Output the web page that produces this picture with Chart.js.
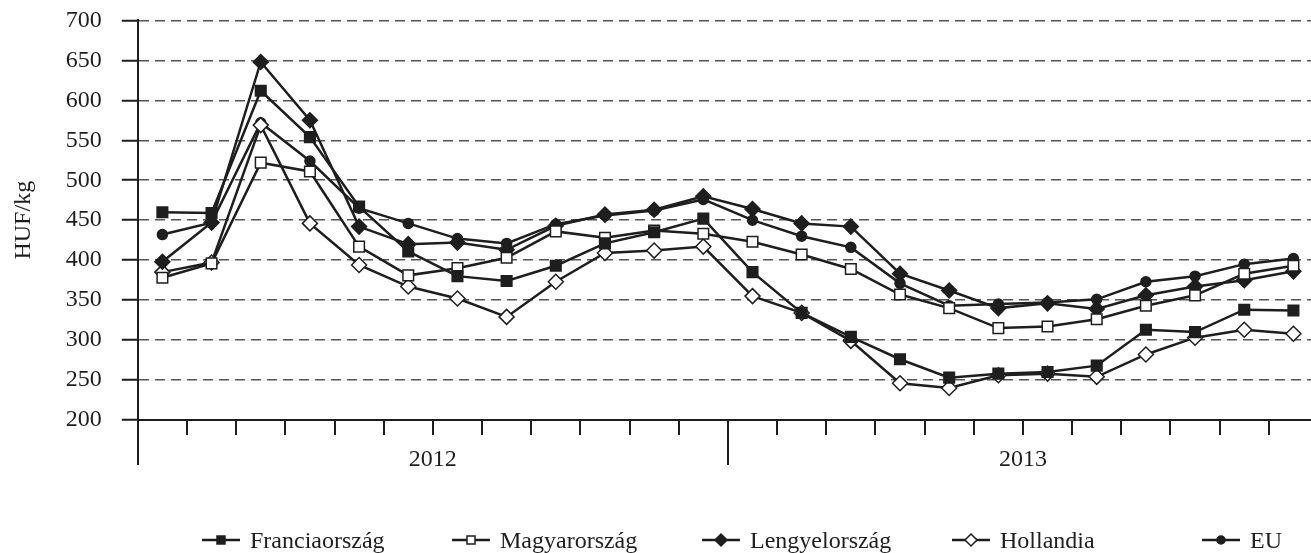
<!DOCTYPE html>
<html>
<head>
<meta charset="utf-8">
<script src="https://cdn.jsdelivr.net/npm/chart.js@4"></script>
<style>
  html, body { margin: 0; padding: 0; background: #fff; overflow: hidden; width: 1311px; height: 553px; }
  #wrap { position: relative; width: 1311px; height: 553px; overflow: hidden; }
  /* canvas pulled up so the 700 gridline sits where the reference has it */
  #chart { position: absolute; left: 0; top: -14px; display: block; }
  #legend { position: absolute; left: 202px; top: 528px; display: flex; }
  #legend .item { width: 250px; height: 24px; display: flex; align-items: center;
                  font: 24px 'Liberation Serif', 'Times New Roman', serif; line-height: 24px; color: #1e1e1e; white-space: nowrap; }
  #legend canvas { margin-right: 10px; }
</style>
</head>
<body>
<div id="wrap">
  <canvas id="chart" width="1330" height="567"></canvas>
  <div id="legend"></div>
</div>
<script>
// monthly prices, HUF/kg
const months = ['2012-01','2012-02','2012-03','2012-04','2012-05','2012-06','2012-07','2012-08','2012-09','2012-10','2012-11','2012-12',
                '2013-01','2013-02','2013-03','2013-04','2013-05','2013-06','2013-07','2013-08','2013-09','2013-10','2013-11','2013-12'];
const years = ['2012', '2013'];

const francia  = [460, 459, 612, 554, 467, 411, 380, 374, 393, 421, 435, 452, 385, 334, 304, 276, 253, 258, 260, 268, 313, 310, 338, 337];
const magyar   = [378, 396, 522, 511, 417, 381, 390, 403, 436, 428, 437, 433, 423, 407, 389, 357, 340, 315, 317, 326, 343, 356, 383, 393];
const lengyel  = [398, 447, 648, 575, 442, 420, 422, 413, 443, 457, 463, 480, 464, 446, 442, 383, 362, 340, 346, 339, 356, 367, 375, 386];
const holland  = [385, 397, 569, 446, 394, 367, 352, 329, 373, 409, 412, 417, 355, 334, 299, 246, 240, 256, 258, 254, 282, 303, 313, 308];
const eu       = [432, 447, 572, 524, 465, 446, 427, 421, 445, 456, 462, 476, 450, 430, 416, 371, 343, 345, 347, 351, 373, 380, 395, 402];

const INK = '#1e1e1e';
const FONT = { family: "'Liberation Serif', 'Times New Roman', serif", size: 24 };

// small line+marker icons for the legend
function legendIcon(kind) {
  const c = document.createElement('canvas');
  c.width = 38; c.height = 16;
  const g = c.getContext('2d');
  const cx = 19, cy = 8;
  g.strokeStyle = INK; g.lineWidth = 2.5;
  g.beginPath(); g.moveTo(0, cy); g.lineTo(38, cy); g.stroke();
  g.lineWidth = 1.5;
  g.fillStyle = (kind === 'sqOpen' || kind === 'diaOpen') ? '#fff' : INK;
  g.beginPath();
  if (kind === 'sq' || kind === 'sqOpen') {
    g.rect(cx - 4, cy - 4, 8, 8);
  } else if (kind === 'dia' || kind === 'diaOpen') {
    g.moveTo(cx, cy - 6); g.lineTo(cx + 6, cy); g.lineTo(cx, cy + 6); g.lineTo(cx - 6, cy); g.closePath();
  } else {
    g.arc(cx, cy, 4, 0, Math.PI * 2);
  }
  g.fill(); g.stroke();
  return c;
}

function series(label, data, style, radius, open, icon) {
  return {
    label: label,
    data: data,
    borderColor: INK,
    borderWidth: 2.5,
    tension: 0,
    pointStyle: style,
    pointRadius: radius,
    pointHoverRadius: radius,
    pointBorderWidth: 1.5,
    pointBorderColor: INK,
    pointBackgroundColor: open ? '#fff' : INK,
    legendIcon: icon,
    xAxisID: 'x'
  };
}

const chart = new Chart(document.getElementById('chart'), {
  type: 'line',
  data: {
    labels: months,
    datasets: [
      series('Franciaország', francia, 'rect', 7.5, false, 'sq'),
      series('Magyarország', magyar, 'rect', 7.5, true, 'sqOpen'),
      series('Lengyelország', lengyel, 'rectRot', 7.5, false, 'dia'),
      series('Hollandia', holland, 'rectRot', 7.5, true, 'diaOpen'),
      series('EU', eu, 'circle', 5, false, 'dot')
    ]
  },
  options: {
    responsive: false,
    animation: false,
    events: [],
    layout: { padding: { left: 5, right: 12, top: 0, bottom: 73 } },
    plugins: {
      tooltip: { enabled: false },
      legend: { display: false }
    },
    scales: {
      x: {
        type: 'category',
        offset: true,
        ticks: { display: false },
        grid: { offset: true, drawOnChartArea: false, tickLength: 15, color: INK, lineWidth: 2, tickBorderDash: [] },
        border: { display: true, color: INK, width: 2 },
        afterFit(scale) { scale.height = 15; }
      },
      x2: {
        type: 'category',
        labels: years,
        position: 'bottom',
        offset: true,
        ticks: { color: INK, font: FONT, padding: -20, maxRotation: 0 },
        grid: { offset: true, drawOnChartArea: false, tickLength: 30, color: INK, lineWidth: 2, tickBorderDash: [] },
        border: { display: false },
        afterFit(scale) { scale.height = 45; }
      },
      y: {
        min: 200,
        max: 700,
        ticks: { stepSize: 50, color: INK, font: FONT, padding: 20 },
        grid: {
          color: '#555',
          lineWidth: 1.5,
          tickLength: 16,
          tickColor: INK,
          tickWidth: 2,
          tickBorderDash: []
        },
        // dash here styles the horizontal grid lines, the axis line stays solid
        border: { display: true, color: INK, width: 2, dash: [10, 6] },
        title: {
          display: true,
          text: 'HUF/kg',
          color: INK,
          font: FONT,
          padding: { top: 4, bottom: 8 }
        }
      }
    }
  }
});

// html legend built from the datasets
const legendBox = document.getElementById('legend');
chart.data.datasets.forEach(ds => {
  const item = document.createElement('div');
  item.className = 'item';
  item.appendChild(legendIcon(ds.legendIcon));
  const txt = document.createElement('span');
  txt.textContent = ds.label;
  item.appendChild(txt);
  legendBox.appendChild(item);
});
</script>
</body>
</html>
